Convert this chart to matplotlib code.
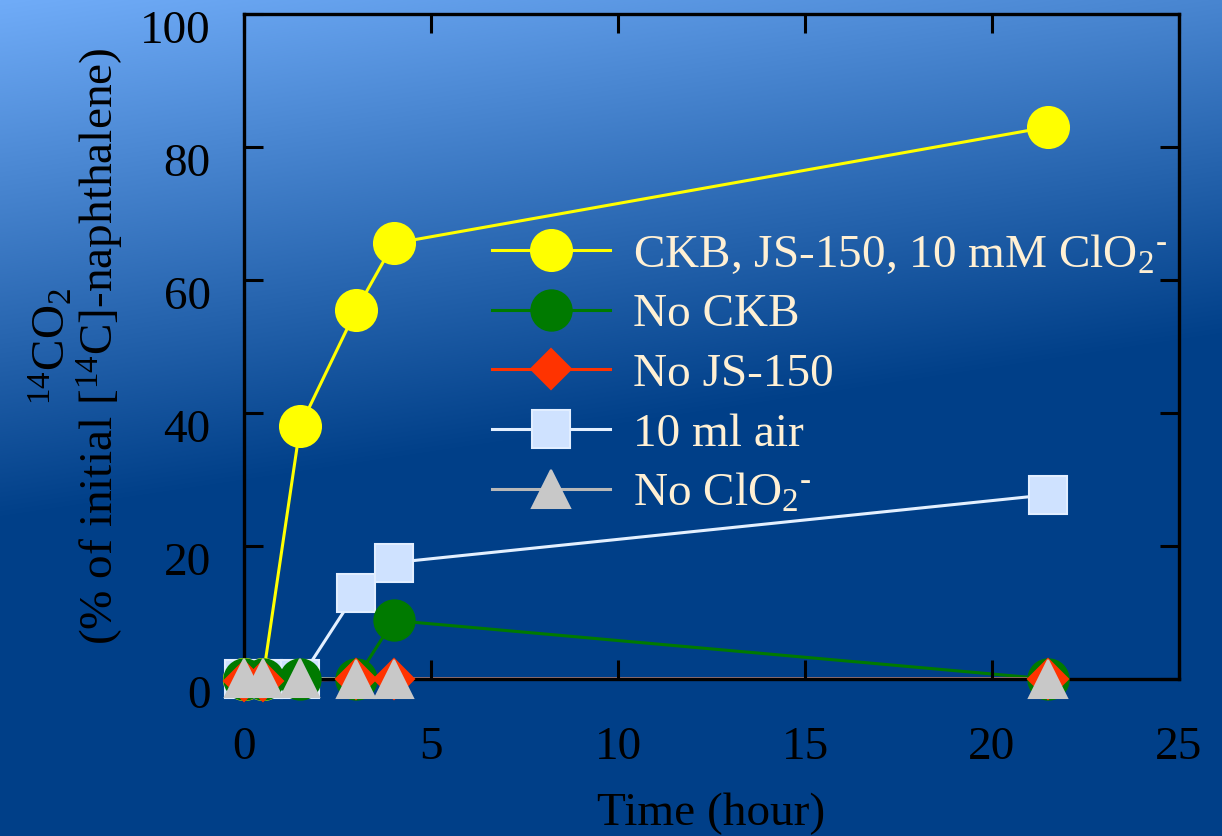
import numpy as np
import matplotlib
matplotlib.use("Agg")
import matplotlib.pyplot as plt
import matplotlib.transforms as mtransforms
from matplotlib.lines import Line2D

plt.rcParams['font.family'] = ['Liberation Serif', 'DejaVu Serif']
plt.rcParams['mathtext.fontset'] = 'custom'
plt.rcParams['mathtext.rm'] = 'Liberation Serif'
plt.rcParams['mathtext.it'] = 'Liberation Serif:italic'
plt.rcParams['mathtext.bf'] = 'Liberation Serif:bold'

# time points (hour) and % 14CO2 for each treatment
t_full = [0, 0.5, 1.5, 3.0, 4.0, 21.5]
full = [0.0, 0.0, 38.0, 55.5, 65.5, 83.0]

t_no_ckb = [0, 0.5, 1.5, 3.0, 4.0, 21.5]
no_ckb = [0.0, 0.0, 0.0, 0.0, 8.8, 0.0]

t_no_js = [0, 0.5, 3.0, 4.0, 21.5]
no_js = [-0.3, -0.3, 0.0, 0.0, 0.0]

t_air = [0, 0.5, 1.5, 3.0, 4.0, 21.5]
air = [0.0, 0.0, 0.0, 13.0, 17.5, 27.7]

t_no_clo2 = [0, 0.5, 1.5, 3.0, 4.0, 21.5]
no_clo2 = [0.1, 0.1, 0.1, 0.0, 0.0, 0.0]

labels = ['CKB, JS-150, 10 mM ClO$_2$$^{\\text{-}}$', 'No CKB', 'No JS-150',
          '10 ml air', 'No ClO$_2$$^{\\text{-}}$']

fig = plt.figure(figsize=(12.22, 8.36), dpi=100)

# gradient backdrop: light blue top-left fading into navy
bg = fig.add_axes([0, 0, 1, 1], zorder=-10)
H, W = 836, 1222
yy, xx = np.mgrid[0:H, 0:W]
s = np.clip((yy + 0.15 * xx) / 520.0, 0, 1)[..., None]
light = np.array([112, 172, 248]) / 255.0
navy = np.array([0, 63, 136]) / 255.0
bg.imshow(light * (1 - s) + navy * s, aspect='auto', extent=[0, 1, 0, 1])
bg.axis('off')

ax = fig.add_axes([0.1997, 0.1878, 0.7651, 0.7955])
ax.set_facecolor('none')

# (t, y, marker, line colour, face colour, edge colour, size, marker zorder)
series = [
    (t_full, full, 'o', '#ffff00', '#ffff00', '#ffff00', 29.5, 3),
    (t_no_ckb, no_ckb, 'o', '#007a00', '#007a00', '#007a00', 29, 5),
    (t_no_js, no_js, 'D', '#ff3300', '#ff3300', '#ff3300', 20, 6),
    (t_air, air, 's', '#e4f0ff', '#cfe2ff', '#e2eeff', 27, 4),
    (t_no_clo2, no_clo2, '^', '#b8b8b8', '#c8c8c8', '#c8c8c8', 28, 7),
]

handles = []
for t, y, mk, lc, fc, ec, ms, z in series:
    # lines sit under the frame, markers on top of it
    ax.plot(t, y, '-', color=lc, lw=2.2, zorder=1.5, clip_on=False)
    ax.plot(t, y, ls='none', marker=mk, ms=ms, mfc=fc, mec=ec, mew=1.5,
            zorder=z, clip_on=False)
    handles.append(Line2D([], [], color=lc, lw=2.2, marker=mk, ms=ms,
                          mfc=fc, mec=ec, mew=1.5))

ax.set_xlim(0, 25)
ax.set_ylim(0, 100)
ax.set_xticks([0, 5, 10, 15, 20, 25])
ax.set_yticks([0, 20, 40, 60, 80, 100])

for sp in ax.spines.values():
    sp.set_linewidth(2.4)
    sp.set_zorder(2)
ax.tick_params(direction='in', length=14, width=2.2, top=True, right=True,
               labelsize=34)
ax.tick_params(axis='x', pad=34)
ax.tick_params(axis='y', pad=24)

# nudge y tick labels downward a little
shift = mtransforms.ScaledTranslation(0, -0.13, fig.dpi_scale_trans)
for lab in ax.get_yticklabels():
    lab.set_transform(lab.get_transform() + shift)

ax.set_xlabel('Time (hour)', fontsize=34, labelpad=17)
ax.set_ylabel('$^{14}$CO$_2$\n(% of initial [$^{14}$C]-naphthalene)',
              fontsize=34, linespacing=1.0)
ax.yaxis.set_label_coords(-0.126, 0.5)

leg = ax.legend(handles, labels, loc='upper left',
                bbox_to_anchor=(0.265, 0.671), frameon=False,
                fontsize=34, labelcolor='#fff0d4', handlelength=2.5,
                handletextpad=0.5, labelspacing=0.35, borderpad=0,
                borderaxespad=0)

fig.savefig('out.png', dpi=100)
